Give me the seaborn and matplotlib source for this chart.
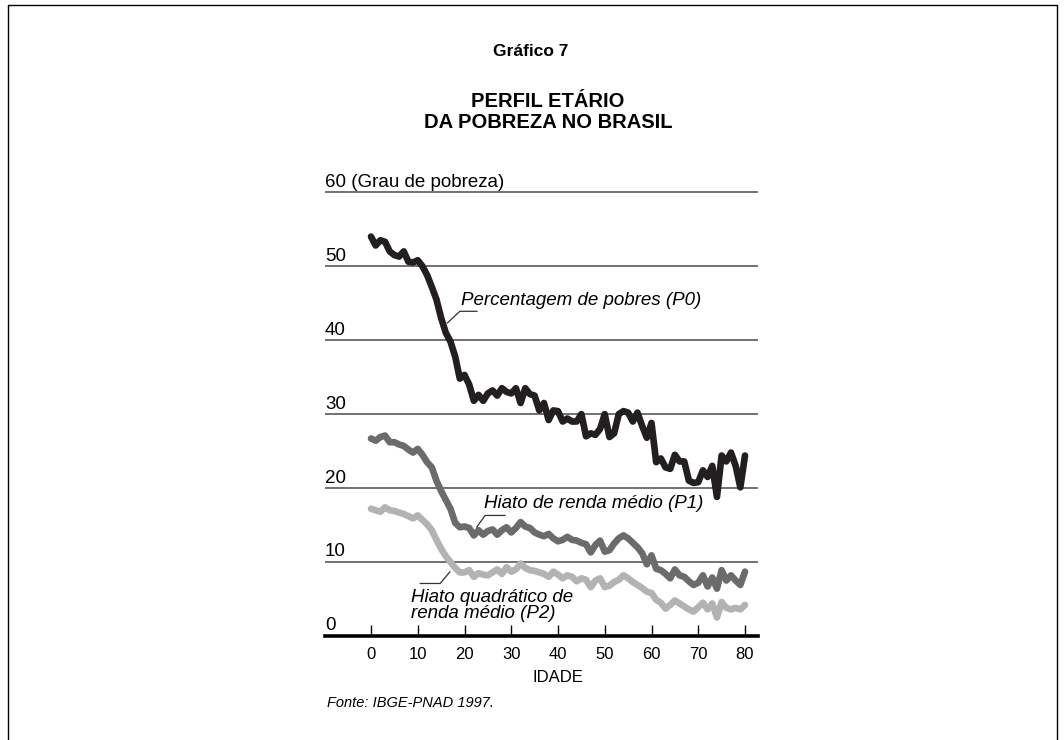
import numpy as np
import pandas as pd
import matplotlib
matplotlib.use("Agg")
import matplotlib.pyplot as plt
from matplotlib.lines import Line2D
import matplotlib.transforms as mtransforms
import seaborn as sns

# ---------------- data ----------------
idade = list(range(0, 81))

p0 = [54.0, 52.8, 53.5, 53.3, 52.0, 51.5, 51.3, 52.0, 50.6, 50.5,
      50.8, 50.0, 48.8, 47.2, 45.5, 43.0, 41.0, 39.8, 37.8, 34.8,
      35.3, 34.0, 31.8, 32.6, 31.8, 32.8, 33.2, 32.5, 33.5, 33.0,
      32.8, 33.5, 31.5, 33.5, 32.7, 32.5, 30.5, 31.5, 29.2, 30.5,
      30.4, 29.0, 29.4, 29.0, 29.0, 30.0, 27.0, 27.4, 27.2, 28.0,
      30.0, 26.9, 27.4, 30.0, 30.4, 30.2, 29.0, 30.2, 28.4, 26.8,
      28.8, 23.5, 24.0, 22.8, 22.6, 24.5, 23.6, 23.6, 21.0, 20.7,
      20.8, 22.4, 21.5, 23.0, 18.8, 24.4, 23.6, 24.8, 23.0, 20.1,
      24.4]

p1 = [26.7, 26.4, 26.9, 27.1, 26.2, 26.2, 25.9, 25.7, 25.2, 24.8,
      25.3, 24.5, 23.5, 22.8, 21.0, 19.6, 18.4, 17.2, 15.3, 14.7,
      14.8, 14.6, 13.6, 14.3, 13.7, 14.2, 14.4, 13.7, 14.3, 14.7,
      14.0, 14.6, 15.4, 14.8, 14.6, 14.0, 13.7, 13.5, 13.8, 13.2,
      12.8, 13.0, 13.4, 13.0, 12.9, 12.6, 12.4, 11.3, 12.3, 12.9,
      11.4, 11.6, 12.5, 13.2, 13.6, 13.2, 12.6, 12.0, 11.2, 9.7,
      10.9, 9.1, 8.9, 8.4, 7.8, 9.0, 8.2, 8.0, 7.4, 6.9,
      7.2, 8.2, 6.7, 7.9, 6.4, 8.9, 7.5, 8.2, 7.5, 6.9,
      8.7]

p2 = [17.2, 17.0, 16.8, 17.4, 17.0, 16.9, 16.7, 16.5, 16.2, 15.9,
      16.3, 15.7, 15.1, 14.3, 13.0, 11.8, 10.8, 10.0, 9.2, 8.6,
      8.6, 8.9, 8.0, 8.5, 8.3, 8.2, 8.6, 9.0, 8.4, 9.3,
      8.7, 9.0, 9.8, 9.2, 8.9, 8.8, 8.6, 8.4, 8.0, 8.7,
      8.3, 7.8, 8.2, 8.0, 7.4, 7.8, 7.6, 6.6, 7.5, 7.8,
      6.6, 6.8, 7.3, 7.6, 8.2, 7.8, 7.3, 6.9, 6.5, 6.0,
      5.8, 4.9, 4.5, 3.7, 4.2, 4.8, 4.4, 4.0, 3.6, 3.3,
      3.9, 4.5, 3.6, 4.4, 2.5, 4.6, 3.8, 3.6, 3.8, 3.6,
      4.2]

series_names = ["P2", "P1", "P0"]
series_colors = ["#b3b3b3", "#6b6b6b", "#231f20"]
x_ticks = [0, 10, 20, 30, 40, 50, 60, 70, 80]
y_levels = [0, 10, 20, 30, 40, 50, 60]
y_labels = ["0", "10", "20", "30", "40", "50", "60 (Grau de pobreza)"]

# ---------------- style ----------------
sns.set_style("white")
plt.rcParams["font.family"] = ["Liberation Sans", "DejaVu Sans"]
plt.rcParams["text.color"] = "black"
plt.rcParams["axes.labelcolor"] = "black"
plt.rcParams["xtick.color"] = "black"
plt.rcParams["ytick.color"] = "black"

fig = plt.figure(figsize=(10.64, 7.40), dpi=100)
ax = fig.add_axes([325 / 1064, 1 - 636 / 740, 433 / 1064, 446 / 740])

df = pd.DataFrame({
    "idade": idade * 3,
    "valor": p2 + p1 + p0,
    "serie": ["P2"] * len(idade) + ["P1"] * len(idade) + ["P0"] * len(idade),
})

sns.lineplot(data=df, x="idade", y="valor", hue="serie",
             hue_order=series_names,
             palette=dict(zip(series_names, series_colors)),
             linewidth=4.8, legend=False, ax=ax, zorder=3)

x_px0, x_px80 = 371, 745
per = (x_px80 - x_px0) / 80
xmin = -(x_px0 - 325) / per
xmax = 80 + (758 - x_px80) / per
ax.set_xlim(xmin, xmax)
ax.set_ylim(0, 60.3)

# gridlines
ax.set_yticks(y_levels[1:])
ax.yaxis.grid(True, color="#4a4a4a", linewidth=1.1)
ax.tick_params(axis="y", length=0, labelleft=False)
ax.set_axisbelow(True)

for s in ["top", "right", "left"]:
    ax.spines[s].set_visible(False)
ax.spines["bottom"].set_linewidth(2.6)
ax.spines["bottom"].set_color("black")

ax.set_xticks(x_ticks)
ax.set_xticklabels([str(t) for t in x_ticks])
ax.tick_params(axis="x", direction="in", length=8, width=1, color="black",
               labelcolor="black", pad=8, labelsize=12, bottom=True)
ax.set_xlabel("IDADE", fontsize=12, labelpad=6, color="black")
ax.set_ylabel("")
ax.xaxis.label.set_x((40 - xmin) / (xmax - xmin))

# y level labels above gridlines
trans = mtransforms.blended_transform_factory(ax.transAxes, ax.transData)
for v, lab in zip(y_levels, y_labels):
    ax.text(0, v + 0.75, lab, transform=trans, ha="left", va="baseline",
            fontsize=13.5, color="black")

# annotations
ann_kw = dict(fontsize=13.5, style="italic", color="black")
ax.text(19.2, 45.4, "Percentagem de pobres (P0)", ha="left", va="center", **ann_kw)
ax.plot([16.3, 19.0, 22.7], [42.3, 43.9, 43.9], color="#333333", lw=0.9, zorder=4)

ax.text(24.2, 17.9, "Hiato de renda médio (P1)", ha="left", va="center", **ann_kw)
ax.plot([22.6, 24.4, 28.7], [14.7, 16.3, 16.3], color="#333333", lw=0.9, zorder=4)

ax.text(8.6, 4.15, "Hiato quadrático de\nrenda médio (P2)", ha="left", va="center",
        linespacing=0.95, **ann_kw)
ax.plot([10.5, 14.8, 16.9], [7.1, 7.1, 8.7], color="#333333", lw=0.9, zorder=4)

# titles and source
fig.text(531 / 1064, 1 - 52 / 740, "Gráfico 7", ha="center", va="center",
         fontsize=12.5, fontweight="bold", color="black")
fig.text(548 / 1064, 1 - 112 / 740, "PERFIL ETÁRIO\nDA POBREZA NO BRASIL",
         ha="center", va="center", fontsize=14.5, fontweight="bold",
         linespacing=1.08, color="black")
fig.text(327 / 1064, 1 - 703 / 740, "Fonte: IBGE-PNAD 1997.", ha="left",
         va="center", fontsize=10.5, style="italic", color="black")

# page frame
fig.add_artist(Line2D([8 / 1064, 8 / 1064], [0, 1 - 5 / 740], color="black",
                      lw=1, transform=fig.transFigure))
fig.add_artist(Line2D([1057 / 1064, 1057 / 1064], [0, 1 - 5 / 740], color="black",
                      lw=1, transform=fig.transFigure))
fig.add_artist(Line2D([8 / 1064, 1057 / 1064], [1 - 5 / 740, 1 - 5 / 740],
                      color="black", lw=1, transform=fig.transFigure))

fig.savefig("out.png", dpi=100)
